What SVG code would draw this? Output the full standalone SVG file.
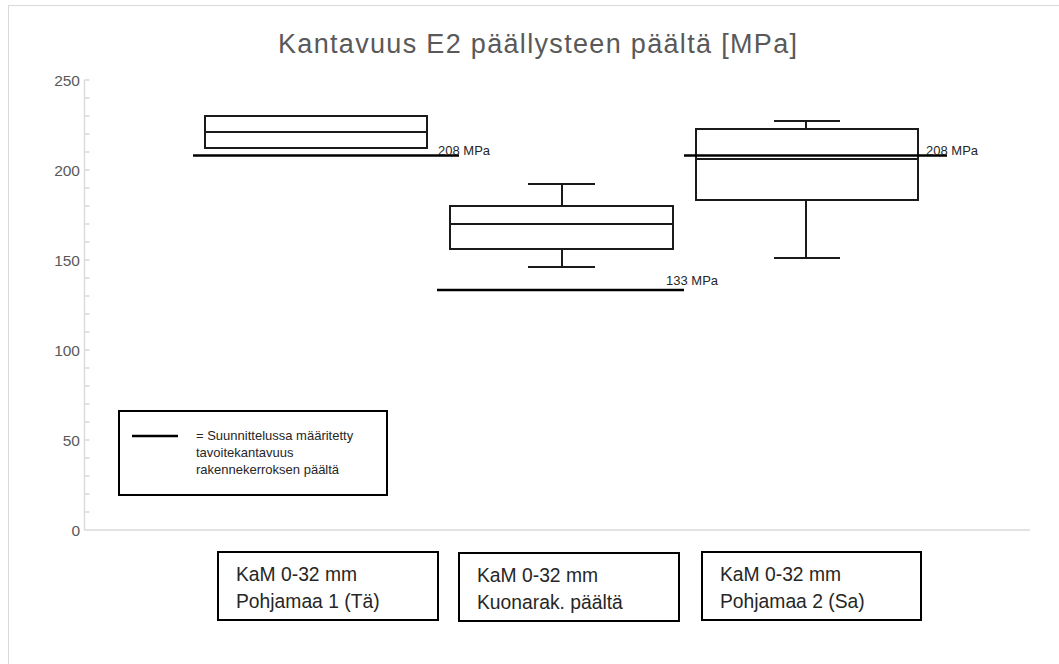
<svg xmlns="http://www.w3.org/2000/svg" width="1059" height="664" viewBox="0 0 1059 664">
  <style>
    .frame { fill: #ffffff; stroke: #d9d9d9; stroke-width: 1; }
    .axis { stroke: #d9d9d9; stroke-width: 1.3; fill: none; }
    .title { font-family: "Liberation Sans", Arial, sans-serif; font-size: 27px; fill: #595959; }
    .tick { font-family: "Liberation Sans", Arial, sans-serif; font-size: 15.5px; fill: #595959; text-anchor: end; }
    .box { fill: none; stroke: #1a1a1a; stroke-width: 2; }
    .whisker { stroke: #1a1a1a; stroke-width: 2; fill: none; }
    .target { stroke: #000000; stroke-width: 2.6; fill: none; }
    .small { font-family: "Liberation Sans", Arial, sans-serif; font-size: 13px; fill: #262626; }
    .label { fill: #ffffff; stroke: #000000; stroke-width: 2; }
    .cat { font-family: "Liberation Sans", Arial, sans-serif; font-size: 19.3px; fill: #262626; }
  </style>

  <!-- chart area frame -->
  <rect class="frame" x="8.5" y="5.5" width="1100" height="700"/>

  <!-- title -->
  <text class="title" x="278" y="53" textLength="519" lengthAdjust="spacing">Kantavuus E2 päällysteen päältä [MPa]</text>

  <!-- value axis: 0..250, 1.8 px per unit, zero at y=530 -->
  <g id="axis">
    <line class="axis" x1="84.5" y1="80" x2="84.5" y2="530"/>
    <line class="axis" x1="84.5" y1="530" x2="1030" y2="530"/>
    <path class="axis" d="M84.5 80h5M84.5 98h5M84.5 116h5M84.5 134h5M84.5 152h5M84.5 170h5M84.5 188h5M84.5 206h5M84.5 224h5M84.5 242h5M84.5 260h5M84.5 278h5M84.5 296h5M84.5 314h5M84.5 332h5M84.5 350h5M84.5 368h5M84.5 386h5M84.5 404h5M84.5 422h5M84.5 440h5M84.5 458h5M84.5 476h5M84.5 494h5M84.5 512h5"/>
    <text class="tick" x="80" y="86">250</text>
    <text class="tick" x="80" y="176">200</text>
    <text class="tick" x="80" y="266">150</text>
    <text class="tick" x="80" y="356">100</text>
    <text class="tick" x="80" y="446">50</text>
    <text class="tick" x="80" y="536">0</text>
  </g>

  <!-- box plot 1: Pohjamaa 1 -->
  <g id="box1">
    <rect class="box" x="205" y="116" width="222" height="32"/>
    <line class="whisker" x1="205" y1="132" x2="427" y2="132"/>
    <line class="whisker" x1="282" y1="116" x2="348" y2="116" stroke-width="2.6"/>
    <line class="whisker" x1="282" y1="148" x2="348" y2="148" stroke-width="2.6"/>
  </g>

  <!-- box plot 2: Kuonarak. -->
  <g id="box2">
    <rect class="box" x="450" y="206" width="223" height="43"/>
    <line class="whisker" x1="450" y1="224" x2="673" y2="224"/>
    <path class="whisker" d="M562 206V184M528 184H595M562 249V267M528 267H595"/>
  </g>

  <!-- box plot 3: Pohjamaa 2 -->
  <g id="box3">
    <rect class="box" x="696" y="129" width="222" height="71"/>
    <line class="whisker" x1="696" y1="159" x2="918" y2="159"/>
    <path class="whisker" d="M806 129V121M774 121H840M806 200V258M774 258H840"/>
  </g>

  <!-- design target lines -->
  <g id="targets">
    <line class="target" x1="193" y1="155.5" x2="459" y2="155.5"/>
    <text class="small" x="438" y="155">208 MPa</text>
    <line class="target" x1="437" y1="290" x2="684" y2="290"/>
    <text class="small" x="666" y="285">133 MPa</text>
    <line class="target" x1="684" y1="155.5" x2="947" y2="155.5"/>
    <text class="small" x="926" y="155">208 MPa</text>
  </g>

  <!-- legend -->
  <g id="legend">
    <rect class="label" x="119" y="411" width="268" height="84" stroke-width="1.5"/>
    <line class="target" x1="132" y1="436" x2="178" y2="436"/>
    <text class="small" x="196" y="440">= Suunnittelussa määritetty</text>
    <text class="small" x="196" y="457">tavoitekantavuus</text>
    <text class="small" x="196" y="474">rakennekerroksen päältä</text>
  </g>

  <!-- category labels -->
  <g id="cat1">
    <rect class="label" x="218" y="552" width="220" height="68"/>
    <text class="cat" x="236" y="581">KaM 0-32 mm</text>
    <text class="cat" x="236" y="608">Pohjamaa 1 (Tä)</text>
  </g>
  <g id="cat2">
    <rect class="label" x="459" y="553" width="220" height="68"/>
    <text class="cat" x="477" y="582">KaM 0-32 mm</text>
    <text class="cat" x="477" y="609">Kuonarak. päältä</text>
  </g>
  <g id="cat3">
    <rect class="label" x="702" y="552" width="219" height="68"/>
    <text class="cat" x="720" y="581">KaM 0-32 mm</text>
    <text class="cat" x="720" y="608">Pohjamaa 2 (Sa)</text>
  </g>
</svg>
